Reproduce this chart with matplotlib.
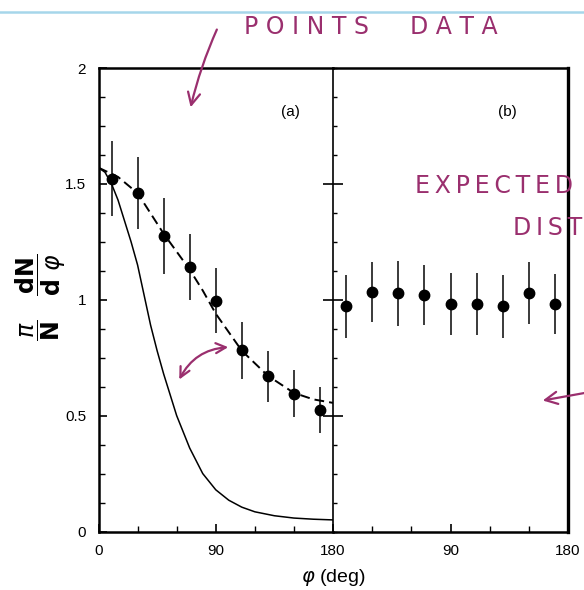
import numpy as np
import matplotlib.pyplot as plt

plt.rcParams['font.family'] = ['Liberation Sans', 'DejaVu Sans']
plt.rcParams['mathtext.fontset'] = 'dejavusans'

# panel (a): measured points
phi_a = [10, 30, 50, 70, 90, 110, 130, 150, 170]
val_a = [1.523, 1.461, 1.276, 1.140, 0.996, 0.782, 0.670, 0.595, 0.523]
err_a = [0.16, 0.157, 0.165, 0.142, 0.14, 0.122, 0.11, 0.10, 0.10]

# panel (a): dashed fit
fit_x = [0, 15, 30, 50, 70, 80, 90, 100, 110, 130, 150, 165, 180]
fit_y = [1.57, 1.53, 1.46, 1.285, 1.13, 1.04, 0.94, 0.86, 0.78, 0.672, 0.598, 0.57, 0.555]

# panel (a): solid expectation
exp_x = [0, 5, 10, 15, 20, 25, 30, 35, 40, 45, 50, 55, 60, 65, 70, 80, 90,
         100, 110, 120, 135, 150, 165, 180]
exp_y = [1.57, 1.55, 1.50, 1.43, 1.34, 1.25, 1.15, 1.02, 0.89, 0.78, 0.68, 0.59,
         0.50, 0.43, 0.36, 0.25, 0.18, 0.135, 0.105, 0.085, 0.068, 0.058, 0.053, 0.050]

# panel (b): measured points
phi_b = [10, 30, 50, 70, 90, 110, 130, 150, 170]
val_b = [0.972, 1.034, 1.027, 1.019, 0.981, 0.981, 0.972, 1.030, 0.981]
err_b = [0.135, 0.13, 0.14, 0.13, 0.133, 0.133, 0.135, 0.135, 0.13]

ink = '#9a2f6e'
ts = '\u2009'

fig = plt.figure(figsize=(5.84, 5.90), dpi=100)
W, H = 584.0, 590.0
x0, xm, x1 = 98.5, 333.0, 568.0
yb, yt = 531.5, 68.0
ax1 = fig.add_axes([x0/W, 1 - yb/H, (xm - x0)/W, (yb - yt)/H])
ax2 = fig.add_axes([xm/W, 1 - yb/H, (x1 - xm)/W, (yb - yt)/H])

ax1.errorbar(phi_a, val_a, yerr=err_a, fmt='o', color='black', ms=7.5,
             ecolor='#3a3a3a', elinewidth=1.4, capsize=0)
ax1.plot(fit_x, fit_y, color='black', lw=1.4, ls=(0, (5, 2.6)))
ax1.plot(exp_x, exp_y, color='black', lw=1.1)
ax2.errorbar(phi_b, val_b, yerr=err_b, fmt='o', color='black', ms=7.5,
             ecolor='#3a3a3a', elinewidth=1.4, capsize=0)
ax2.patch.set_alpha(0)

for ax in (ax1, ax2):
    ax.set_xlim(0, 180)
    ax.set_ylim(0, 2)
    ax.set_yticks([0, 0.5, 1, 1.5, 2])
    ax.set_yticks(np.arange(0, 2.01, 0.125), minor=True)
    ax.set_xticks([30, 60, 120, 150], minor=True)
    ax.tick_params(which='both', top=False, right=False, labelsize=11)
    ax.tick_params(which='major', direction='in', length=6, width=1.2)
    ax.tick_params(which='minor', direction='in', length=4, width=1.0)
    ax.tick_params(axis='x', pad=9)
    for s in ax.spines.values():
        s.set_linewidth(1.8)

ax1.spines['right'].set_visible(False)
ax1.set_xticks([0, 90, 180])
ax1.set_xticklabels(['0', '90', '180'])
ax1.set_yticklabels(['0', '0.5', '1', '1.5', '2'])
ax1.tick_params(axis='y', pad=9)

ax2.set_xticks([90, 180])
ax2.set_xticklabels(['90', '180'])
ax2.set_yticks([0.5, 1, 1.5])
ax2.set_yticklabels([])
ax2.tick_params(axis='y', which='major', direction='inout', length=14)
ax2.tick_params(axis='y', which='minor', length=3)
ax2.spines['left'].set_linewidth(1.2)
ax2.spines['right'].set_linewidth(2.4)

ax1.text(0.82, 0.905, '(a)', transform=ax1.transAxes, ha='center', va='center', fontsize=11)
ax2.text(0.74, 0.905, '(b)', transform=ax2.transAxes, ha='center', va='center', fontsize=11)

fig.text(333/W, 1 - 577/H, r'$\varphi$ (deg)', ha='center', va='center', fontsize=14)
fig.text(41/W, 1 - 297/H, r'$\dfrac{\pi}{\mathbf{N}}\quad\dfrac{\mathbf{dN}}{\mathbf{d}\ \varphi}$',
         rotation=90, ha='center', va='center', fontsize=17)

# handwritten notes drawn over the figure in pixel space
ov = fig.add_axes([0, 0, 1, 1])
ov.set_xlim(0, W)
ov.set_ylim(H, 0)
ov.axis('off')
ov.patch.set_alpha(0)
ov.plot([0, W], [12, 12], color='#a6d6ea', lw=1.8)
ov.text(244, 27, 'P O I N T S', color=ink, fontsize=17, family='DejaVu Sans',
        ha='left', va='center')
ov.text(410, 27, 'D A T A', color=ink, fontsize=17, family='DejaVu Sans',
        ha='left', va='center')
ov.text(415, 186, ts.join('EXPECTED'), color=ink, fontsize=17, family='DejaVu Sans',
        ha='left', va='center')
ov.text(513, 228, ts.join('DIST'), color=ink, fontsize=17, family='DejaVu Sans',
        ha='left', va='center')
ov.annotate('', xy=(190, 110), xytext=(218, 27),
            arrowprops=dict(arrowstyle='->', color=ink, lw=1.6, mutation_scale=22,
                            connectionstyle='arc3,rad=0.05'))
ov.annotate('', xy=(178, 382), xytext=(231, 347),
            arrowprops=dict(arrowstyle='<->', color=ink, lw=1.6, mutation_scale=18,
                            connectionstyle='arc3,rad=0.3'))
ov.annotate('', xy=(540, 401), xytext=(590, 392),
            arrowprops=dict(arrowstyle='->', color=ink, lw=1.6, mutation_scale=22))

fig.savefig('out.png', dpi=100)
